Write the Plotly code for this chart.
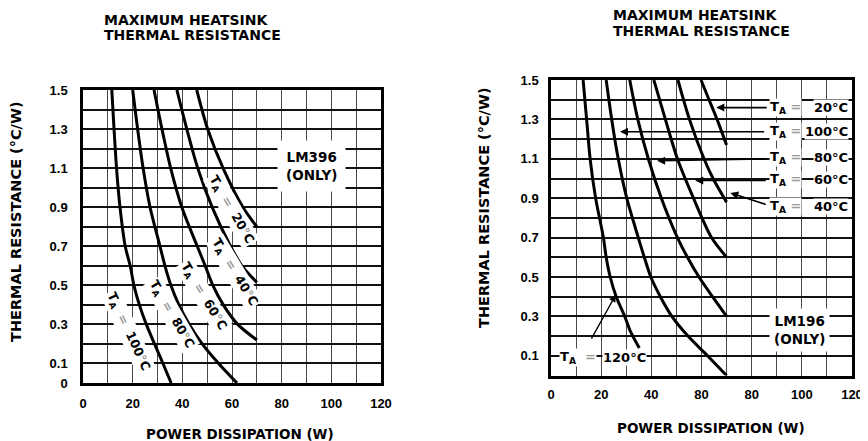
import plotly.graph_objects as go

# ---------------- data ----------------
# Left chart: LM396 (ONLY) - power dissipation (W) vs thermal resistance (°C/W)
lm396_ta = [100, 80, 60, 40, 20]
lm396_r_100 = [1.5, 1.3, 1.1, 0.9, 0.7, 0.6, 0.5, 0.4, 0.3, 0.2, 0.1, 0.0]
lm396_p_100 = [11.6, 12.5, 13.5, 14.9, 17.0, 19.0, 20.5, 22.7, 25.5, 28.8, 32.2, 35.5]
lm396_r_80 = [1.5, 1.3, 1.1, 0.9, 0.7, 0.6, 0.5, 0.4, 0.3, 0.2, 0.1, 0.0]
lm396_p_80 = [20.0, 22.0, 24.2, 27.0, 31.0, 33.0, 35.4, 38.6, 42.8, 48.0, 54.6, 62.0]
lm396_r_60 = [1.5, 1.3, 1.1, 0.9, 0.7, 0.6, 0.5, 0.4, 0.3, 0.22]
lm396_p_60 = [28.6, 31.8, 35.3, 39.8, 46.0, 49.2, 52.3, 56.5, 62.3, 70.0]
lm396_r_40 = [1.5, 1.3, 1.1, 0.9, 0.7, 0.6, 0.515]
lm396_p_40 = [37.8, 41.8, 46.2, 52.0, 59.4, 64.0, 70.0]
lm396_r_20 = [1.5, 1.3, 1.1, 0.9, 0.80]
lm396_p_20 = [45.8, 50.2, 56.4, 64.4, 70.0]

# Right chart: LM196 (ONLY)
lm196_ta = [120, 100, 80, 60, 40, 20]
lm196_r_120 = [1.5, 1.3, 1.1, 0.9, 0.7, 0.6, 0.5, 0.4, 0.3, 0.22, 0.14]
lm196_p_120 = [12.8, 14.2, 15.6, 17.8, 20.9, 22.0, 23.6, 26.0, 29.4, 31.8, 35.2]
lm196_r_100 = [1.5, 1.3, 1.1, 0.9, 0.7, 0.6, 0.5, 0.4, 0.3, 0.2, 0.1, 0.0]
lm196_p_100 = [22.0, 24.2, 26.8, 30.2, 34.8, 37.2, 39.8, 43.6, 48.2, 54.6, 62.4, 70.0]
lm196_r_80 = [1.5, 1.3, 1.1, 0.9, 0.7, 0.6, 0.5, 0.4, 0.3]
lm196_p_80 = [31.4, 34.6, 38.8, 44.0, 50.4, 54.4, 59.0, 64.4, 70.0]
lm196_r_60 = [1.5, 1.3, 1.1, 0.9, 0.7, 0.6]
lm196_p_60 = [41.0, 45.6, 50.4, 56.8, 64.0, 70.0]
lm196_r_40 = [1.5, 1.3, 1.1, 1.0, 0.88]
lm196_p_40 = [50.6, 55.2, 61.0, 64.6, 70.0]
lm196_r_20 = [1.5, 1.4, 1.3, 1.17]
lm196_p_20 = [59.8, 63.0, 66.2, 70.0]

# tick labels
x_tickvals = [0, 10, 20, 30, 40, 50, 60, 70, 80, 90, 100, 110, 120]
x_ticktext_left = ["0", "", "20", "", "40", "", "60", "", "80", "", "100", "", "120"]
x_ticktext_right = ["0", "", "20", "", "40", "", "80", "", "80", "", "100", "", "120"]
y_tickvals = [round(i * 0.1, 1) for i in range(16)]
y_ticktext_left = ["0", "0.1", "", "0.3", "", "0.5", "", "0.7", "", "0.9", "", "1.1", "", "1.3", "", "1.5"]
y_ticktext_right = ["", "0.1", "", "0.3", "", "0.5", "", "0.7", "", "0.9", "", "1.1", "", "1.3", "", "1.5"]

title_lines = ["MAXIMUM HEATSINK", "THERMAL RESISTANCE"]
y_title = "THERMAL RESISTANCE (°C/W)"
x_title = "POWER DISSIPATION (W)"

# ---------------- figure ----------------
# the page body has an 8px margin, so the figure is 8px smaller than the window
OFF = 8
W, H = 868 - OFF, 441 - OFF
BOLD = "DejaVu Sans"
TICKF = "Liberation Sans"


def px(x):
    return (x - OFF) / W


def py(y):
    return (H - (y - OFF)) / H


fig = go.Figure()

left = [(lm396_p_100, lm396_r_100), (lm396_p_80, lm396_r_80), (lm396_p_60, lm396_r_60),
        (lm396_p_40, lm396_r_40), (lm396_p_20, lm396_r_20)]
for ta, (p, r) in zip(lm396_ta, left):
    fig.add_trace(go.Scatter(x=p, y=r, mode="lines", name=f"TA={ta}",
                             line=dict(color="black", width=3, shape="spline", smoothing=0.8),
                             xaxis="x", yaxis="y", showlegend=False, hoverinfo="skip"))

right = [(lm196_p_120, lm196_r_120), (lm196_p_100, lm196_r_100), (lm196_p_80, lm196_r_80),
         (lm196_p_60, lm196_r_60), (lm196_p_40, lm196_r_40), (lm196_p_20, lm196_r_20)]
for ta, (p, r) in zip(lm196_ta, right):
    fig.add_trace(go.Scatter(x=p, y=r, mode="lines", name=f"TA={ta}",
                             line=dict(color="black", width=3, shape="spline", smoothing=0.8),
                             xaxis="x2", yaxis="y2", showlegend=False, hoverinfo="skip"))


def xaxis(domain, anchor, ticktext, ticklen):
    return dict(domain=domain, anchor=anchor, range=[0, 120], tickmode="array",
                tickvals=x_tickvals, ticktext=ticktext, showgrid=True,
                gridcolor="#4a4a4a", gridwidth=1, zeroline=False, showline=True,
                linecolor="black", linewidth=2.5, mirror=True, ticks="outside",
                ticklen=ticklen, tickcolor="rgba(0,0,0,0)", automargin=False,
                tickfont=dict(family=TICKF, size=13, color="black", weight="bold"),
                fixedrange=True)


def yaxis(domain, anchor, ticktext, ticklen):
    return dict(domain=domain, anchor=anchor, range=[0, 1.5], tickmode="array",
                tickvals=y_tickvals, ticktext=ticktext, showgrid=True,
                gridcolor="#111111", gridwidth=1.5, zeroline=False, showline=True,
                linecolor="black", linewidth=2.5, mirror=True, ticks="outside",
                ticklen=ticklen, tickcolor="rgba(0,0,0,0)", automargin=False,
                tickfont=dict(family=TICKF, size=13, color="black", weight="bold"),
                fixedrange=True)


fig.update_layout(
    width=W, height=H, margin=dict(l=0, r=0, t=0, b=0, autoexpand=False),
    paper_bgcolor="white", plot_bgcolor="white", showlegend=False,
    xaxis=xaxis([px(83), px(381)], "y", x_ticktext_left, 7),
    yaxis=yaxis([py(383), py(90)], "x", y_ticktext_left, 10),
    xaxis2=xaxis([px(551), px(852)], "y2", x_ticktext_right, 5),
    yaxis2=yaxis([py(375.5), py(80)], "x2", y_ticktext_right, 7),
)

ann = []
font_t = dict(family=BOLD, size=14, color="black", weight="bold")
# titles
for (x0, ys) in [(102, [20, 35]), (611, [15, 31])]:
    for line, yy in zip(title_lines, ys):
        ann.append(dict(text=line, x=px(x0), y=py(yy), xref="paper", yref="paper",
                        xanchor="left", yanchor="middle", showarrow=False, font=font_t))
# axis titles
for (xx, yy) in [(16, 222), (484, 208)]:
    ann.append(dict(text=y_title, x=px(xx), y=py(yy), xref="paper", yref="paper",
                    xanchor="center", yanchor="middle",
                    textangle=-90, showarrow=False, font=dict(font_t, size=14.5)))
for (xx, yy) in [(240, 434), (711, 428)]:
    ann.append(dict(text=x_title, x=px(xx), y=py(yy), xref="paper", yref="paper",
                    xanchor="center", yanchor="middle",
                    showarrow=False, font=dict(font_t, size=13.5)))

EQ = "<span style='color:#9a9a9a'>=</span>"
DEG = "<span style='color:#9a9a9a'>°</span>"

# left curve labels (rotated)
left_label_pos = {20: (59.6, 0.886, 60), 40: (61.2, 0.568, 59), 60: (48.7, 0.445, 59),
                  80: (35.8, 0.353, 60), 100: (18.5, 0.261, 65)}
for ta in lm396_ta:
    xx, yy, ang = left_label_pos[ta]
    ann.append(dict(text=f"T<sub>A</sub>  {EQ}  {ta}{DEG}C", x=xx, y=yy, xref="x", yref="y",
                    textangle=ang, showarrow=False, bgcolor="white", borderpad=1,
                    font=dict(family=BOLD, size=12.5, color="black", weight="bold")))

ann.append(dict(text="LM396<br>(ONLY)", x=92.2, y=1.111, xref="x", yref="y", showarrow=False,
                bgcolor="white", borderpad=8, align="center",
                font=dict(family=BOLD, size=13.5, color="black", weight="bold")))
ann.append(dict(text="LM196<br>(ONLY)", x=99, y=0.231, xref="x2", yref="y2", showarrow=False,
                bgcolor="white", borderpad=4, align="center",
                font=dict(family=BOLD, size=13.5, color="black", weight="bold")))

# right labels with arrows
right_labels = {20: (1.36, (65.9, 1.36), (86.6, 1.36)),
                100: (1.237, (27.5, 1.237), (85.6, 1.237)),
                80: (1.105, (42.3, 1.09), (86.0, 1.10)),
                60: (0.993, (57.5, 0.99), (86.2, 0.99)),
                40: (0.856, (71.5, 0.927), (86.2, 0.866))}
lab_font = dict(family=BOLD, size=13, color="black", weight="bold")
for ta in [20, 100, 80, 60, 40]:
    yy, head, tail = right_labels[ta]
    ann.append(dict(text="", x=head[0], y=head[1], ax=tail[0], ay=tail[1], xref="x2", yref="y2",
                    axref="x2", ayref="y2", showarrow=True, arrowhead=2, arrowsize=1,
                    arrowwidth=1.6, arrowcolor="black", standoff=0, startstandoff=0))
    ann.append(dict(text=f"T<sub>A</sub> {EQ}", x=87.0, y=yy, xref="x2", yref="y2",
                    xanchor="left", showarrow=False, bgcolor="white", borderpad=0,
                    font=lab_font))
    ann.append(dict(text=f"{ta}°C", x=118.8, y=yy, xref="x2", yref="y2",
                    xanchor="right", showarrow=False, bgcolor="white", borderpad=0, font=lab_font))

# TA = 120 label (bottom left of right chart)
ann.append(dict(text="", x=25.8, y=0.409, ax=15.8, ay=0.18, xref="x2", yref="y2",
                axref="x2", ayref="y2", showarrow=True, arrowhead=2, arrowsize=1,
                arrowwidth=1.4, arrowcolor="black", standoff=0, startstandoff=0))
ann.append(dict(text=f"T<sub>A</sub>  {EQ}", x=3.0, y=0.09, xref="x2", yref="y2",
                xanchor="left", showarrow=False, bgcolor="white", borderpad=0,
                font=lab_font))
ann.append(dict(text="120°C", x=38.3, y=0.09, xref="x2", yref="y2",
                xanchor="right", showarrow=False, bgcolor="white", borderpad=0,
                font=lab_font))

fig.update_layout(annotations=ann)
fig.write_html("out.html")
